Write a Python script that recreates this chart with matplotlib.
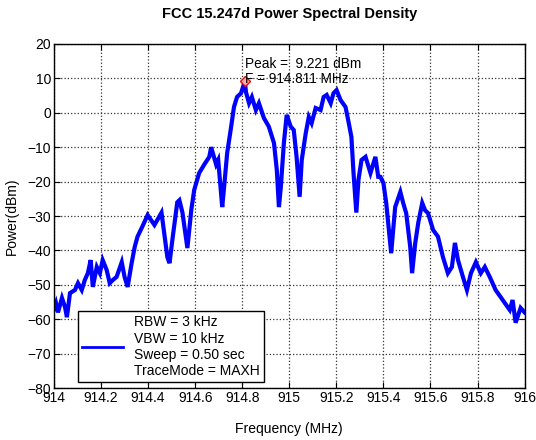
import matplotlib
matplotlib.use("Agg")
import matplotlib.pyplot as plt
import numpy as np

plt.rcParams['font.family'] = ['Liberation Sans', 'DejaVu Sans']

freq_mhz = [914.000, 914.0085, 914.017, 914.034, 914.047, 914.055, 914.068, 914.089, 914.102, 914.118,
            914.131, 914.144, 914.156, 914.165, 914.182, 914.195, 914.207, 914.224, 914.237, 914.250,
            914.266, 914.288, 914.300, 914.313, 914.330, 914.343, 914.355, 914.376, 914.398, 914.427,
            914.457, 914.482, 914.491, 914.503, 914.524, 914.533, 914.546, 914.562, 914.567, 914.584,
            914.596, 914.617, 914.639, 914.660, 914.668, 914.689, 914.698, 914.715, 914.723, 914.736,
            914.753, 914.765, 914.778, 914.795, 914.811, 914.816, 914.829, 914.841, 914.858, 914.871,
            914.892, 914.913, 914.935, 914.947, 914.956, 914.964, 914.977, 914.989, 915.006, 915.019,
            915.031, 915.044, 915.053, 915.070, 915.083, 915.095, 915.112, 915.133, 915.146, 915.159,
            915.176, 915.188, 915.201, 915.218, 915.239, 915.252, 915.264, 915.273, 915.285, 915.294,
            915.307, 915.324, 915.345, 915.366, 915.378, 915.387, 915.400, 915.412, 915.433, 915.450,
            915.472, 915.484, 915.497, 915.514, 915.522, 915.535, 915.548, 915.565, 915.577, 915.590,
            915.611, 915.632, 915.653, 915.674, 915.691, 915.704, 915.717, 915.738, 915.755, 915.772,
            915.793, 915.814, 915.831, 915.852, 915.877, 915.907, 915.937, 915.949, 915.962, 915.983,
            916.000]
power_dbm = [-57, -55.3, -58, -53.8, -56.5, -59.4, -52.4, -51.5, -49.5, -51.5,
             -48.6, -46.6, -42.8, -50.6, -44.8, -46.6, -42.8, -45.7, -49.5, -48.6,
             -47.7, -43.4, -47.7, -50.6, -43.7, -39, -36, -33, -29.7, -32.6,
             -29, -42, -43.7, -37, -26, -25.4, -29, -37, -39.3, -28,
             -22.4, -17.5, -15, -12.8, -10, -15, -13.7, -27.4, -21.6, -11.7,
             -4, 1.7, 4.6, 5.7, 9.221, 6, 2.8, 4.6, 0.8, 2.8,
             -1.5, -4, -8.8, -16.6, -27.4, -21.6, -8.8, -0.6, -4, -5,
             -12.8, -24.4, -13.7, -5.9, -1.2, -3, 1.4, 0.8, 4.6, 5.2,
             2.8, 5.7, 6.6, 3.7, 1.7, -2.7, -7, -17.5, -29, -19.5,
             -13.7, -12.8, -17.5, -12.8, -18.6, -18.6, -20.4, -26.2, -40.8, -27.4,
             -23, -26.2, -29.2, -39, -46.6, -38, -32, -26.2, -28.3, -29.2,
             -34, -36, -41.9, -46.6, -44.8, -37.8, -42.8, -47.7, -51.5, -46.6,
             -43.4, -46.6, -44.8, -47.7, -51.5, -54.4, -57.3, -54.4, -61, -56.7,
             -58]

peak_freq = 914.811
peak_power = 9.221

legend_label = "RBW = 3 kHz\nVBW = 10 kHz\nSweep = 0.50 sec\nTraceMode = MAXH"
xticks = [914, 914.2, 914.4, 914.6, 914.8, 915, 915.2, 915.4, 915.6, 915.8, 916]
xtick_labels = ["914", "914.2", "914.4", "914.6", "914.8", "915", "915.2", "915.4", "915.6", "915.8", "916"]
yticks = [-80, -70, -60, -50, -40, -30, -20, -10, 0, 10, 20]

fig = plt.figure(figsize=(5.36, 4.4), dpi=100)
ax = fig.add_axes([0.1007, 0.118, 0.878, 0.782])

ax.plot(freq_mhz, power_dbm, color=(0, 0, 1), lw=3.0, solid_joinstyle='miter', label=legend_label)
ax.plot([peak_freq], [peak_power], marker='D', markersize=5, markerfacecolor='#ffb0b0',
        markeredgecolor='red', markeredgewidth=1, linestyle='none')
ax.text(peak_freq, 14.2, "Peak =  %.3f dBm" % peak_power, fontsize=9.8, ha='left', va='center')
ax.text(peak_freq, 9.8, "F = %.3f MHz" % peak_freq, fontsize=9.8, ha='left', va='center')

ax.set_xlim(914, 916)
ax.set_ylim(-80, 20)
ax.set_xticks(xticks)
ax.set_xticklabels(xtick_labels)
ax.set_yticks(yticks)
ax.tick_params(direction='in', top=True, right=True, length=4, labelsize=10, pad=2)
ax.grid(True, linestyle=':', color='#333333', linewidth=0.9)
for s in ax.spines.values():
    s.set_linewidth(1.0)

ax.set_title("FCC 15.247d Power Spectral Density", fontsize=10.5, fontweight='bold', pad=19)
ax.set_xlabel("Frequency (MHz)", fontsize=10, labelpad=12)
ax.set_ylabel("Power(dBm)", fontsize=10, labelpad=6)

leg = ax.legend(loc='lower left', bbox_to_anchor=(0.05, 0.017), borderaxespad=0, fontsize=10,
                fancybox=False, framealpha=1, edgecolor='black', handlelength=3.0,
                labelspacing=0.2, borderpad=0.3, handletextpad=0.8)
leg.get_frame().set_linewidth(1.0)
leg.get_lines()[0].set_linewidth(2.0)

fig.savefig("out.png", dpi=100)
